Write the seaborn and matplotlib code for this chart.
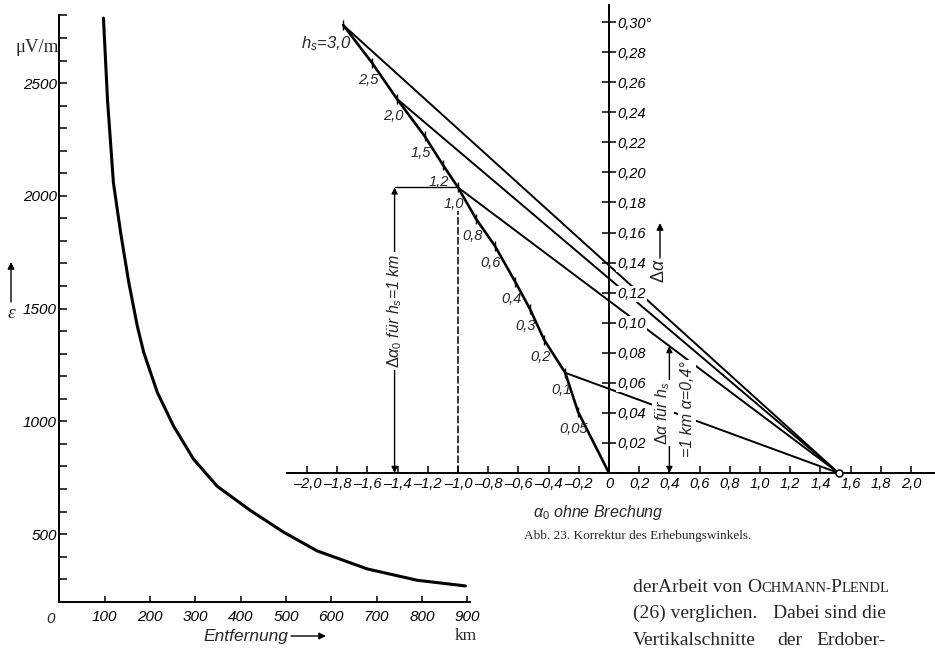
import numpy as np
import pandas as pd
import seaborn as sns
import matplotlib.pyplot as plt

# --- linkes Bild: Feldstaerke ueber Entfernung ---
entfernung_km = [97, 106, 119, 135, 153, 172, 186, 216, 252, 296, 348, 421, 495, 569, 680, 790, 896]
feldstaerke_uv = [2788, 2425, 2058, 1836, 1615, 1420, 1305, 1128, 978, 832, 712, 605, 508, 425, 345, 295, 270]
x_ticks_km = [100, 200, 300, 400, 500, 600, 700, 800, 900]
y_ticks_haupt = [500, 1000, 1500, 2000, 2500]
y_ticks_neben = list(range(300, 2900, 100))

# --- Abb. 23: Korrektur des Erhebungswinkels ---
hs_km = [0, 0.05, 0.1, 0.2, 0.3, 0.4, 0.6, 0.8, 1.0, 1.2, 1.5, 2.0, 2.5, 3.0]
hs_labels = ["", "0,05", "0,1", "0,2", "0,3", "0,4", "0,6", "0,8", "1,0", "1,2", "1,5", "2,0", "2,5", "3,0"]
alpha0_grad = [0, -0.205, -0.29, -0.43, -0.523, -0.62, -0.755, -0.88, -1.0, -1.10, -1.22, -1.405, -1.57, -1.76]
dalpha_grad = [0, 0.0407, 0.0667, 0.0887, 0.109, 0.127, 0.151, 0.169, 0.19, 0.205, 0.224, 0.249, 0.273, 0.298]
hs_mit_linie = [3.0, 2.0, 1.0, 0.1]
drehpunkt = (1.52, 0.0)
beispiel_alpha0 = -1.42   # Delta alpha0 fuer hs = 1 km
beispiel_alpha = 0.4      # alpha = 0,4 Grad
alpha_ticks = [-2.0, -1.8, -1.6, -1.4, -1.2, -1.0, -0.8, -0.6, -0.4, -0.2, 0.0,
               0.2, 0.4, 0.6, 0.8, 1.0, 1.2, 1.4, 1.6, 1.8, 2.0]
dalpha_ticks = [0.02, 0.04, 0.06, 0.08, 0.10, 0.12, 0.14, 0.16, 0.18, 0.20,
                0.22, 0.24, 0.26, 0.28, 0.30]


def komma(v, stellen=1):
    if v == 0:
        return "0"
    s = f"{v:.{stellen}f}".replace(".", ",")
    return s.replace("-", "\u2013")


sns.set_style("white")
plt.rcParams['font.family'] = ['Liberation Sans', 'DejaVu Sans']
plt.rcParams['mathtext.fontset'] = 'custom'
plt.rcParams['mathtext.rm'] = 'Liberation Sans'
plt.rcParams['mathtext.it'] = 'Liberation Sans:italic'
SERIF = ['Liberation Serif', 'DejaVu Serif']

W, H = 935, 648
fig = plt.figure(figsize=(9.35, 6.48), dpi=100)
fig.patch.set_facecolor('white')


def box(l, t, r, b):
    return [l / W, 1 - b / H, (r - l) / W, (b - t) / H]


# linkes Diagramm
ax1 = fig.add_axes(box(59.5, 15.4, 470, 601.7))
ax1.patch.set_alpha(0)
sns.lineplot(x=entfernung_km, y=feldstaerke_uv, ax=ax1, color='black', lw=2.2)
ax1.set_xlim(0, (470 - 59.5) / 0.453)
ax1.set_ylim(200, 2800)
sns.despine(ax=ax1)
for s in ['left', 'bottom']:
    ax1.spines[s].set_color('black')
    ax1.spines[s].set_linewidth(1.4)
ax1.set_xticks(x_ticks_km)
ax1.set_xticklabels([str(v) for v in x_ticks_km], style='italic', fontsize=11)
ax1.set_yticks(y_ticks_haupt)
ax1.set_yticklabels([str(v) for v in y_ticks_haupt], style='italic', fontsize=11)
ax1.set_yticks(y_ticks_neben, minor=True)
ax1.tick_params(axis='both', which='both', direction='in', color='black',
                width=1.1, bottom=True, left=True, labelcolor='black')
ax1.tick_params(axis='y', which='both', length=6, pad=2)
ax1.tick_params(axis='x', length=4.5, pad=6)
ax1.set_xlabel("")
ax1.set_ylabel("")

# Nomogramm
ax2 = fig.add_axes(box(287, 5, 935, 473))
ax2.patch.set_alpha(0)
ax2.set_xlim((287 - 609) / 151, (935 - 609) / 151)
ax2.set_ylim(0, (473 - 5) / 1503)
ax2.set_axisbelow(False)
ax2.spines['top'].set_visible(False)
ax2.spines['left'].set_visible(False)
ax2.spines['right'].set_position(('data', 0))
for s in ['right', 'bottom']:
    ax2.spines[s].set_color('black')
    ax2.spines[s].set_linewidth(1.4)
ax2.yaxis.tick_right()
ax2.set_yticks(dalpha_ticks)
ylab = [komma(v, 2) for v in dalpha_ticks]
ylab[-1] = ylab[-1] + "\u00b0"
ax2.set_yticklabels(ylab, style='italic', fontsize=10.5)
ax2.set_xticks(alpha_ticks)
ax2.set_xticklabels([komma(v) for v in alpha_ticks], style='italic', fontsize=10.5)
ax2.tick_params(axis='y', direction='inout', length=10, width=1.1, pad=1,
                right=True, left=False, color='black', labelcolor='black')
ax2.tick_params(axis='x', direction='in', length=5, width=1.1, pad=3,
                bottom=True, color='black', labelcolor='black')
for t in ax2.get_yticklabels():
    t.set_bbox(dict(facecolor='white', edgecolor='none', pad=0.6))

# hs-Kurve
sns.lineplot(x=alpha0_grad, y=dalpha_grad, ax=ax2, color='black', lw=1.9, sort=False)
ax2.plot(alpha0_grad[1:], dalpha_grad[1:], '|', color='black', ms=7, mew=1)

# Geraden zum Drehpunkt
for h in hs_mit_linie:
    i = hs_km.index(h)
    ax2.plot([alpha0_grad[i], drehpunkt[0]], [dalpha_grad[i], drehpunkt[1]],
             color='black', lw=1.4, solid_capstyle='round')
ax2.plot(*drehpunkt, 'o', mfc='white', mec='black', ms=5, mew=1.1, zorder=6, clip_on=False)

# Beschriftung der hs-Skala
for i in range(1, len(hs_km)):
    if hs_km[i] == 3.0:
        ax2.annotate(r"$h_s$=3,0", (alpha0_grad[i], dalpha_grad[i]), xytext=(8, -19),
                     textcoords='offset pixels', ha='right', va='center',
                     style='italic', fontsize=12)
    else:
        ax2.annotate(hs_labels[i], (alpha0_grad[i], dalpha_grad[i]), xytext=(-4, -17),
                     textcoords='offset pixels', ha='center', va='center',
                     style='italic', fontsize=10.5)

# Beispiel hs = 1 km
i1 = hs_km.index(1.0)
ax2.plot([beispiel_alpha0, alpha0_grad[i1]], [dalpha_grad[i1], dalpha_grad[i1]], color='black', lw=1)
ax2.plot([alpha0_grad[i1], alpha0_grad[i1]], [0, dalpha_grad[i1] - 0.016], color='black', lw=1.1,
         ls=(0, (5, 1.5)))
ax2.annotate('', xy=(beispiel_alpha0, dalpha_grad[i1]), xytext=(beispiel_alpha0, 0),
             arrowprops=dict(arrowstyle='<|-|>', color='black', lw=1, mutation_scale=9,
                             shrinkA=0, shrinkB=0))
ax2.text(beispiel_alpha0, (473 - 311) / 1503, r"$\Delta\alpha_0$ für $h_s$=1 km", rotation=90,
         ha='center', va='center', style='italic', fontsize=11.5, zorder=7,
         bbox=dict(facecolor='white', edgecolor='none', pad=1))

y_bsp = dalpha_grad[i1] * (drehpunkt[0] - beispiel_alpha) / (drehpunkt[0] - alpha0_grad[i1])
ax2.annotate('', xy=(beispiel_alpha, y_bsp), xytext=(beispiel_alpha, 0),
             arrowprops=dict(arrowstyle='<|-|>', color='black', lw=1, mutation_scale=9,
                             shrinkA=0, shrinkB=0))
ax2.text((663 - 609) / 151, (473 - 413) / 1503, r"$\Delta\alpha$ für $h_s$", rotation=90,
         ha='center', va='center', style='italic', fontsize=11.5, zorder=7,
         bbox=dict(facecolor='white', edgecolor='none', pad=1))
ax2.text((687 - 609) / 151, (473 - 409) / 1503, "=1 km \u03b1=0,4\u00b0", rotation=90,
         ha='center', va='center', style='italic', fontsize=11.5, zorder=7,
         bbox=dict(facecolor='white', edgecolor='none', pad=1))

# freie Texte in Pixelkoordinaten
axt = fig.add_axes([0, 0, 1, 1], zorder=10)
axt.set_xlim(0, W)
axt.set_ylim(H, 0)
axt.axis('off')
axt.patch.set_alpha(0)

pfeil = dict(arrowstyle='-|>', color='black', lw=1, mutation_scale=10, shrinkA=0, shrinkB=0)
axt.text(37, 48, "\u03bcV/m", ha='center', va='center', family=SERIF, fontsize=13.5)
axt.text(11, 313, "\u03b5", ha='center', va='center', family=SERIF, style='italic', fontsize=14)
axt.annotate('', xy=(11, 262), xytext=(11, 302), arrowprops=pfeil)
axt.text(51, 619, "0", ha='center', va='center', style='italic', fontsize=11)
axt.text(203, 636, "Entfernung", ha='left', va='center', style='italic', fontsize=12.5)
axt.annotate('', xy=(326, 636), xytext=(291, 636), arrowprops=pfeil)
axt.text(466, 636, "km", ha='center', va='center', family=SERIF, fontsize=12.5)

axt.text(660, 271, r"$\Delta\alpha$", ha='center', va='center', rotation=90, fontsize=13)
axt.annotate('', xy=(660, 223), xytext=(660, 258), arrowprops=pfeil)

axt.text(598, 512, r"$\alpha_0$ ohne Brechung", ha='center', va='center', style='italic', fontsize=11.5)
axt.text(638, 536, "Abb. 23. Korrektur des Erhebungswinkels.", ha='center', va='center',
         family=SERIF, fontsize=9.5)

# Fliesstext mit Kapitaelchen
renderer = fig.canvas.get_renderer()


def setze(x, y, s, groesse):
    t = axt.text(x, y, s, ha='left', va='baseline', family=SERIF, fontsize=groesse)
    return t.get_window_extent(renderer).x1


gr, kl = 14, 10.5
x = setze(633, 592, "derArbeit von ", gr)
x = setze(x, 592, "O", gr)
x = setze(x, 592, "CHMANN-", kl)
x = setze(x, 592, "P", gr)
x = setze(x, 592, "LENDL", kl)

axt.text(633, 618, "(26) verglichen.", ha='left', va='baseline', family=SERIF, fontsize=gr)
axt.text(886, 618, "Dabei sind die", ha='right', va='baseline', family=SERIF, fontsize=gr)
axt.text(633, 645, "Vertikalschnitte", ha='left', va='baseline', family=SERIF, fontsize=gr)
axt.text(790, 645, "der", ha='center', va='baseline', family=SERIF, fontsize=gr)
axt.text(886, 645, "Erdober-", ha='right', va='baseline', family=SERIF, fontsize=gr)

fig.savefig("out.png", dpi=100)
